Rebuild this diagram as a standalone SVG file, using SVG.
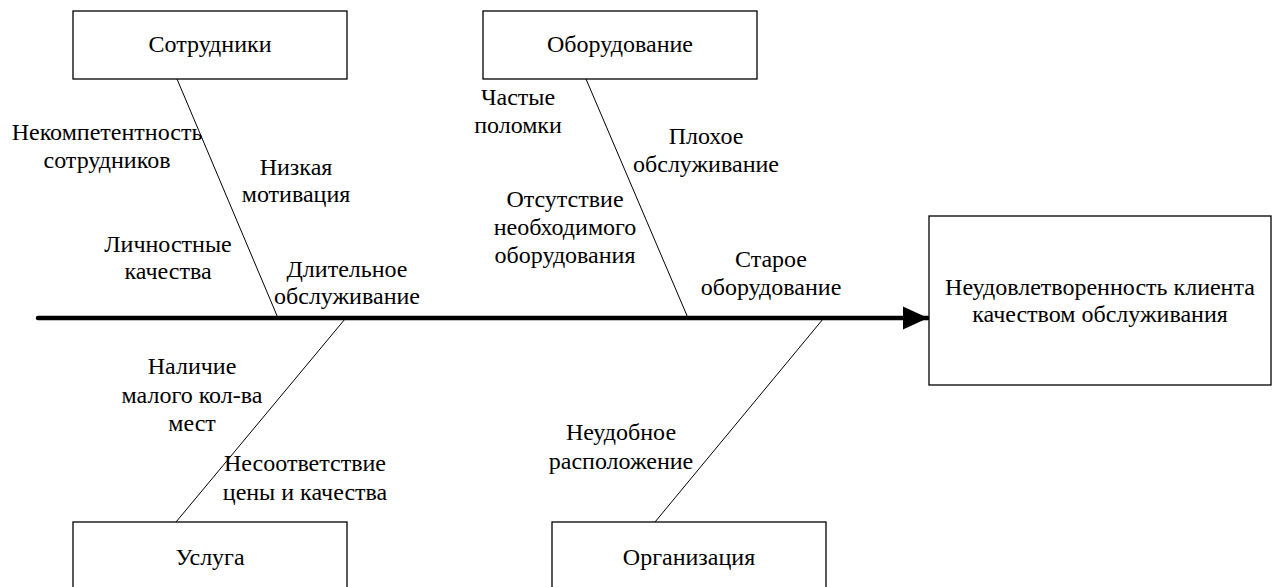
<svg xmlns="http://www.w3.org/2000/svg" width="1275" height="587" viewBox="0 0 1275 587">
<style>
.box{fill:#fff;stroke:#000;stroke-width:1.3}
text{font-family:'Liberation Serif','DejaVu Serif',serif;font-size:24px;fill:#000;text-anchor:middle}
.bone{stroke:#000;stroke-width:1;fill:none}
</style>
<defs>
<marker id="ah" markerWidth="6" markerHeight="6" refX="5.6" refY="3" orient="auto" markerUnits="strokeWidth">
<path d="M0,0.4 L5.6,3 L0,5.6 Z" fill="#000"/>
</marker>
</defs>
<rect width="1275" height="587" fill="#fff"/>
<g id="connectors">
<line x1="38" y1="318" x2="928" y2="318" stroke="#000" stroke-width="4.5" stroke-linecap="round" marker-end="url(#ah)"/>
<line class="bone" x1="177" y1="79" x2="278" y2="318"/>
<line class="bone" x1="586" y1="79" x2="688" y2="318"/>
<line class="bone" x1="345" y1="319" x2="176" y2="522"/>
<line class="bone" x1="823" y1="319" x2="655" y2="522"/>
</g>
<g font-family="Liberation Serif, DejaVu Serif, serif">
<g id="node-staff">
<rect class="box" x="73" y="11" width="274" height="68"/>
<text x="210" y="52">Сотрудники</text>
</g>
<g id="node-equipment">
<rect class="box" x="483" y="11" width="274" height="68"/>
<text x="620" y="52">Оборудование</text>
</g>
<g id="node-effect">
<rect class="box" x="929" y="216" width="342" height="169"/>
<text x="1100" y="295">Неудовлетворенность клиента</text>
<text x="1100" y="322">качеством обслуживания</text>
</g>
<g id="node-service">
<rect class="box" x="73" y="522" width="274" height="80"/>
<text x="210" y="565">Услуга</text>
</g>
<g id="node-organization">
<rect class="box" x="552" y="522" width="274" height="80"/>
<text x="689" y="565">Организация</text>
</g>
<g id="labels">
<text x="107" y="140">Некомпетентность</text>
<text x="107" y="168">сотрудников</text>
<text x="296" y="175">Низкая</text>
<text x="296" y="202">мотивация</text>
<text x="168" y="252">Личностные</text>
<text x="168" y="279">качества</text>
<text x="347" y="277">Длительное</text>
<text x="347" y="304">обслуживание</text>
<text x="518" y="105">Частые</text>
<text x="518" y="133">поломки</text>
<text x="706" y="144">Плохое</text>
<text x="706" y="172">обслуживание</text>
<text x="565" y="207">Отсутствие</text>
<text x="565" y="235">необходимого</text>
<text x="565" y="263">оборудования</text>
<text x="771" y="267">Старое</text>
<text x="771" y="295">оборудование</text>
<text x="192" y="374">Наличие</text>
<text x="192" y="403">малого кол-ва</text>
<text x="192" y="431">мест</text>
<text x="305" y="471">Несоответствие</text>
<text x="305" y="500">цены и качества</text>
<text x="621" y="440">Неудобное</text>
<text x="621" y="469">расположение</text>
</g>
</g>
</svg>
